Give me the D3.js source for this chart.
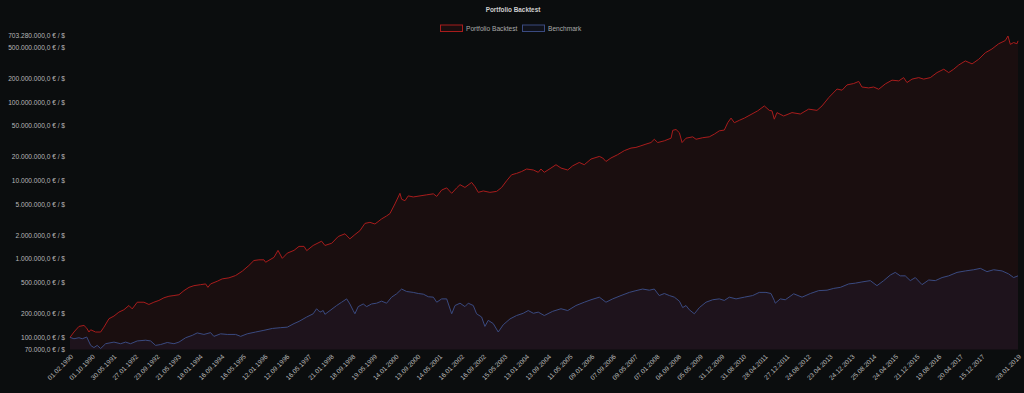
<!DOCTYPE html>
<html>
<head>
<meta charset="utf-8">
<script src="https://cdn.jsdelivr.net/npm/d3@7"></script>
<style>
  html, body { margin: 0; padding: 0; background: #0b0d0e; }
  svg { display: block; font-family: "Liberation Sans", Arial, sans-serif; }
</style>
</head>
<body>
<svg id="chart" width="1024" height="393"></svg>
<script>
// chart texts
const chartTitle = "Portfolio Backtest";
const seriesNames = ["Portfolio Backtest", "Benchmark"];

// y axis ticks (log scale, min and max are shown too)
const yTicks = [70000, 100000, 200000, 500000, 1000000, 2000000, 5000000, 10000000,
  20000000, 50000000, 100000000, 200000000, 500000000, 703280000];

// x axis labels
const xTicks = ["1990-02-01", "1990-10-01", "1991-05-30", "1992-01-27", "1992-09-23", "1993-05-21",
  "1994-01-18", "1994-09-16", "1995-05-16", "1996-01-12", "1996-09-12", "1997-05-16", "1998-01-21",
  "1998-09-18", "1999-05-19", "2000-01-14", "2000-09-13", "2001-05-14", "2002-01-16", "2002-09-16",
  "2003-05-15", "2004-01-13", "2004-09-13", "2005-05-11", "2006-01-09", "2006-09-07", "2007-05-09",
  "2008-01-07", "2008-09-04", "2009-05-05", "2009-12-31", "2010-08-31", "2011-04-28", "2011-12-27",
  "2012-08-24", "2013-04-23", "2013-12-24", "2014-08-25", "2015-04-24", "2015-12-21", "2016-08-19",
  "2017-04-20", "2017-12-15", "2019-01-28"];

// portfolio value [date, value]
const portfolio = [
  ["1990-02-01", 100000], ["1990-03-17", 117000], ["1990-05-12", 138000], ["1990-07-07", 142000],
  ["1990-08-07", 131000], ["1990-09-01", 117000], ["1990-09-20", 125000], ["1990-11-14", 117000],
  ["1991-01-09", 117000], ["1991-02-15", 135000], ["1991-04-12", 173000], ["1991-06-07", 187000],
  ["1991-08-01", 210000], ["1991-09-26", 225000], ["1991-11-21", 255000], ["1991-12-28", 231000],
  ["1992-02-22", 281000], ["1992-05-07", 281000], ["1992-07-01", 263000], ["1992-08-26", 281000],
  ["1992-10-21", 296000], ["1992-12-16", 320000], ["1993-02-10", 335000], ["1993-04-07", 342000],
  ["1993-06-02", 350000], ["1993-07-28", 395000], ["1993-09-22", 435000], ["1993-11-16", 457000],
  ["1994-01-30", 471000], ["1994-03-27", 481000], ["1994-04-21", 435000], ["1994-05-21", 481000],
  ["1994-08-03", 520000], ["1994-09-28", 558000], ["1994-12-12", 575000], ["1995-02-25", 616000],
  ["1995-05-10", 700000], ["1995-07-23", 827000], ["1995-09-17", 957000], ["1995-11-12", 977000],
  ["1996-01-07", 977000], ["1996-01-26", 910000], ["1996-04-28", 1050000], ["1996-06-12", 1290000],
  ["1996-07-30", 1020000], ["1996-09-24", 1190000], ["1996-12-08", 1290000], ["1997-02-02", 1450000],
  ["1997-03-30", 1450000], ["1997-04-29", 1280000], ["1997-07-10", 1490000], ["1997-10-12", 1690000],
  ["1997-11-18", 1490000], ["1998-02-02", 1590000], ["1998-04-16", 1940000], ["1998-06-30", 2100000],
  ["1998-08-24", 1810000], ["1998-10-19", 2050000], ["1998-12-14", 2300000], ["1999-02-08", 2850000],
  ["1999-04-05", 2940000], ["1999-05-31", 2800000], ["1999-08-13", 3250000], ["1999-10-08", 3550000],
  ["1999-11-14", 3800000], ["2000-01-09", 5050000], ["2000-03-05", 6900000], ["2000-03-24", 5800000],
  ["2000-04-30", 5550000], ["2000-06-06", 6400000], ["2000-08-01", 6200000], ["2000-10-15", 6400000],
  ["2000-12-29", 6600000], ["2001-03-13", 6800000], ["2001-04-20", 6300000], ["2001-06-14", 7600000],
  ["2001-08-09", 8100000], ["2001-10-04", 6900000], ["2001-11-29", 8100000], ["2002-01-05", 8900000],
  ["2002-03-01", 8200000], ["2002-05-15", 9500000], ["2002-06-21", 8400000], ["2002-07-28", 7100000],
  ["2002-09-22", 7400000], ["2002-12-05", 7100000], ["2003-02-18", 7300000], ["2003-04-15", 8200000],
  ["2003-06-10", 10000000], ["2003-08-04", 11900000], ["2003-09-29", 12400000], ["2003-11-24", 13100000],
  ["2004-01-19", 14100000], ["2004-04-03", 13700000], ["2004-05-28", 12800000], ["2004-06-27", 14100000],
  ["2004-08-03", 12800000], ["2004-10-17", 14500000], ["2004-12-12", 16000000], ["2005-02-06", 14500000],
  ["2005-04-22", 13700000], ["2005-06-17", 15500000], ["2005-08-29", 17100000], ["2005-10-24", 16000000],
  ["2006-01-07", 18900000], ["2006-04-10", 20400000], ["2006-05-18", 19500000], ["2006-06-23", 17600000],
  ["2006-08-18", 19500000], ["2006-11-01", 21500000], ["2007-01-14", 24200000], ["2007-03-30", 26100000],
  ["2007-05-24", 26600000], ["2007-07-19", 27900000], ["2007-09-13", 29300000], ["2007-11-08", 30700000],
  ["2007-12-15", 33800000], ["2008-01-22", 30700000], ["2008-04-05", 32300000], ["2008-06-19", 34900000],
  ["2008-07-08", 44000000], ["2008-08-14", 45000000], ["2008-09-20", 41000000], ["2008-10-20", 30700000],
  ["2008-12-03", 34900000], ["2009-02-16", 36300000], ["2009-03-25", 33800000], ["2009-06-08", 35400000],
  ["2009-08-20", 36300000], ["2009-10-15", 39300000], ["2009-12-10", 43300000], ["2010-02-04", 44300000],
  ["2010-03-14", 55000000], ["2010-04-20", 63000000], ["2010-05-27", 55000000], ["2010-07-22", 59000000],
  ["2010-09-16", 63000000], ["2010-11-29", 70000000], ["2011-02-12", 78000000], ["2011-04-27", 90000000],
  ["2011-06-21", 79000000], ["2011-07-21", 78000000], ["2011-08-16", 61000000], ["2011-09-15", 74000000],
  ["2011-11-29", 67000000], ["2012-03-01", 74000000], ["2012-06-02", 71000000], ["2012-09-03", 82000000],
  ["2012-12-05", 79000000], ["2013-01-30", 90000000], ["2013-04-15", 115000000], ["2013-07-17", 148000000],
  ["2013-09-11", 143000000], ["2013-11-05", 167000000], ["2014-01-19", 174000000], ["2014-03-16", 185000000],
  ["2014-04-21", 157000000], ["2014-07-05", 153000000], ["2014-08-30", 157000000], ["2014-10-25", 147000000],
  ["2015-01-07", 172000000], ["2015-03-23", 192000000], ["2015-06-06", 188000000], ["2015-07-31", 207000000],
  ["2015-09-06", 179000000], ["2015-11-01", 198000000], ["2016-01-15", 207000000], ["2016-03-11", 198000000],
  ["2016-05-24", 207000000], ["2016-08-07", 240000000], ["2016-10-21", 265000000], ["2016-12-15", 240000000],
  ["2017-02-09", 265000000], ["2017-04-06", 300000000], ["2017-06-19", 338000000], ["2017-09-02", 310000000],
  ["2017-11-15", 355000000], ["2018-01-28", 430000000], ["2018-04-12", 480000000], ["2018-06-26", 560000000],
  ["2018-09-08", 615000000], ["2018-10-08", 703280000], ["2018-11-03", 550000000], ["2018-12-10", 580000000],
  ["2019-01-17", 560000000], ["2019-01-28", 610000000]
];

// benchmark value [date, value]
const benchmark = [
  ["1990-02-01", 100000], ["1990-03-17", 96000], ["1990-05-12", 99000], ["1990-06-18", 96000],
  ["1990-08-07", 101000], ["1990-09-20", 79000], ["1990-10-26", 74000], ["1990-12-02", 79000],
  ["1991-01-09", 72000], ["1991-03-06", 83000], ["1991-06-07", 87000], ["1991-08-20", 83000],
  ["1991-10-15", 87000], ["1991-12-09", 83000], ["1992-02-22", 90000], ["1992-05-26", 92000],
  ["1992-07-20", 90000], ["1992-09-14", 79000], ["1992-11-09", 81000], ["1993-01-22", 86000],
  ["1993-04-07", 83000], ["1993-06-02", 87000], ["1993-08-16", 99000], ["1993-10-28", 106000],
  ["1993-12-23", 114000], ["1994-03-08", 109000], ["1994-05-21", 115000], ["1994-06-27", 103000],
  ["1994-09-10", 111000], ["1994-11-23", 109000], ["1995-02-25", 109000], ["1995-04-22", 103000],
  ["1995-07-04", 111000], ["1995-10-06", 117000], ["1996-01-07", 123000], ["1996-04-10", 130000],
  ["1996-07-12", 133000], ["1996-09-24", 135000], ["1996-12-08", 150000], ["1997-02-02", 160000],
  ["1997-04-29", 182000], ["1997-07-10", 200000], ["1997-08-17", 232000], ["1997-09-24", 210000],
  ["1997-10-30", 220000], ["1997-11-18", 197000], ["1998-01-14", 220000], ["1998-03-29", 255000],
  ["1998-05-24", 281000], ["1998-07-19", 310000], ["1998-08-24", 267000], ["1998-09-30", 220000],
  ["1998-10-19", 200000], ["1998-11-25", 247000], ["1999-01-20", 267000], ["1999-02-27", 247000],
  ["1999-04-23", 267000], ["1999-06-18", 273000], ["1999-08-13", 290000], ["1999-10-08", 273000],
  ["1999-12-03", 326000], ["2000-01-28", 360000], ["2000-03-24", 414000], ["2000-05-19", 385000],
  ["2000-08-01", 375000], ["2000-09-26", 363000], ["2000-11-21", 356000], ["2001-01-16", 330000],
  ["2001-03-13", 326000], ["2001-04-20", 281000], ["2001-06-14", 310000], ["2001-08-09", 310000],
  ["2001-10-04", 200000], ["2001-11-10", 255000], ["2002-01-05", 273000], ["2002-03-01", 247000],
  ["2002-04-07", 273000], ["2002-06-02", 255000], ["2002-07-09", 200000], ["2002-09-03", 182000],
  ["2002-10-10", 138000], ["2002-11-16", 165000], ["2003-01-11", 150000], ["2003-03-08", 117000],
  ["2003-05-03", 145000], ["2003-07-17", 172000], ["2003-09-29", 190000], ["2003-12-12", 203000],
  ["2004-02-06", 220000], ["2004-04-03", 203000], ["2004-05-28", 210000], ["2004-08-03", 190000],
  ["2004-11-05", 215000], ["2005-02-06", 232000], ["2005-04-22", 220000], ["2005-07-23", 255000],
  ["2005-10-24", 281000], ["2006-01-07", 302000], ["2006-04-10", 326000], ["2006-06-23", 281000],
  ["2006-09-06", 310000], ["2006-12-08", 342000], ["2007-03-11", 375000], ["2007-05-24", 395000],
  ["2007-08-07", 414000], ["2007-10-20", 400000], ["2007-12-15", 414000], ["2008-02-08", 342000],
  ["2008-04-05", 363000], ["2008-05-31", 342000], ["2008-07-26", 326000], ["2008-09-20", 290000],
  ["2008-10-27", 240000], ["2008-12-03", 255000], ["2009-01-09", 225000], ["2009-03-06", 200000],
  ["2009-05-01", 240000], ["2009-07-14", 281000], ["2009-09-27", 302000], ["2009-12-10", 310000],
  ["2010-02-04", 296000], ["2010-04-01", 326000], ["2010-06-15", 310000], ["2010-09-16", 326000],
  ["2010-12-18", 342000], ["2011-03-01", 375000], ["2011-05-15", 375000], ["2011-07-10", 363000],
  ["2011-08-16", 296000], ["2011-08-27", 273000], ["2011-10-22", 310000], ["2011-12-17", 302000],
  ["2012-03-20", 360000], ["2012-06-21", 326000], ["2012-09-22", 363000], ["2012-12-24", 395000],
  ["2013-03-27", 400000], ["2013-06-10", 422000], ["2013-08-23", 435000], ["2013-11-24", 481000],
  ["2014-02-06", 492000], ["2014-04-21", 510000], ["2014-07-23", 530000], ["2014-10-06", 457000],
  ["2014-12-20", 530000], ["2015-03-04", 625000], ["2015-04-28", 675000], ["2015-06-23", 610000],
  ["2015-08-18", 610000], ["2015-10-13", 530000], ["2015-12-08", 580000], ["2016-02-21", 471000],
  ["2016-05-06", 540000], ["2016-07-19", 530000], ["2016-10-02", 580000], ["2016-12-15", 610000],
  ["2017-03-18", 675000], ["2017-06-19", 705000], ["2017-09-21", 730000], ["2017-12-04", 760000],
  ["2018-02-16", 690000], ["2018-05-01", 730000], ["2018-08-03", 705000], ["2018-10-16", 645000],
  ["2018-12-10", 580000], ["2019-01-28", 610000]
];

const w = 1024;
const h = 393;
const plot = {left: 70, right: 1018, top: 36, bottom: 349.5};

const parseDate = d3.utcParse("%Y-%m-%d");
const fmtDate = d3.utcFormat("%d.%m.%Y");
const de = d3.formatLocale({decimal: ",", thousands: ".", grouping: [3], currency: ["", " €"]});
const fmtMoney = (v) => de.format(",.1f")(v) + " € / $";

const x = d3.scaleUtc()
  .domain([parseDate(xTicks[0]), parseDate(xTicks[xTicks.length - 1])])
  .range([plot.left, plot.right]);

const y = d3.scaleLog()
  .domain([yTicks[0], yTicks[yTicks.length - 1]])
  .range([plot.bottom, plot.top]);

const svg = d3.select("#chart");

// series styles
const styles = [
  {data: portfolio, line: "#a81c1c", fill: "rgba(170, 30, 30, 0.1)"},
  {data: benchmark, line: "#3a4a80", fill: "rgba(70, 70, 150, 0.1)"}
];

const area = d3.area()
  .x((d) => x(parseDate(d[0])))
  .y0(plot.bottom)
  .y1((d) => y(d[1]));

const line = d3.line()
  .x((d) => x(parseDate(d[0])))
  .y((d) => y(d[1]));

// fills first, then lines on top
styles.forEach((s) => {
  svg.append("path")
    .attr("d", area(s.data))
    .attr("fill", s.fill);
});
styles.slice().reverse().forEach((s) => {
  svg.append("path")
    .attr("d", line(s.data))
    .attr("fill", "none")
    .attr("stroke", s.line)
    .attr("stroke-width", 1)
    .attr("stroke-linejoin", "round");
});

// y axis labels
svg.append("g")
  .selectAll("text")
  .data(yTicks)
  .enter()
  .append("text")
  .attr("x", 65)
  .attr("y", (d) => y(d))
  .attr("dy", "0.35em")
  .attr("text-anchor", "end")
  .attr("font-size", 6.6)
  .attr("fill", "#b8b8b8")
  .text((d) => fmtMoney(d));

// x axis labels (rotated)
svg.append("g")
  .selectAll("text")
  .data(xTicks)
  .enter()
  .append("text")
  .attr("transform", (d) => `translate(${x(parseDate(d)) + 2},${plot.bottom + 6}) rotate(-45)`)
  .attr("dy", "0.35em")
  .attr("text-anchor", "end")
  .attr("font-size", 6.6)
  .attr("fill", "#b8b8b8")
  .text((d) => fmtDate(parseDate(d)));

// title
svg.append("text")
  .attr("x", 513)
  .attr("y", 10)
  .attr("dy", "0.35em")
  .attr("text-anchor", "middle")
  .attr("font-size", 6.4)
  .attr("font-weight", "bold")
  .attr("fill", "#cfcfcf")
  .text(chartTitle);

// legend
const legendX = [440.5, 522.5];
const legend = svg.append("g")
  .selectAll("g")
  .data(seriesNames)
  .enter()
  .append("g")
  .attr("transform", (d, i) => `translate(${legendX[i]},25)`);

legend.append("rect")
  .attr("width", 22)
  .attr("height", 6.5)
  .attr("fill", (d, i) => styles[i].fill)
  .attr("stroke", (d, i) => styles[i].line)
  .attr("stroke-width", 1);

legend.append("text")
  .attr("x", 25.5)
  .attr("y", 3.3)
  .attr("dy", "0.35em")
  .attr("font-size", 6.6)
  .attr("fill", "#aaaaaa")
  .text((d) => d);
</script>
</body>
</html>
